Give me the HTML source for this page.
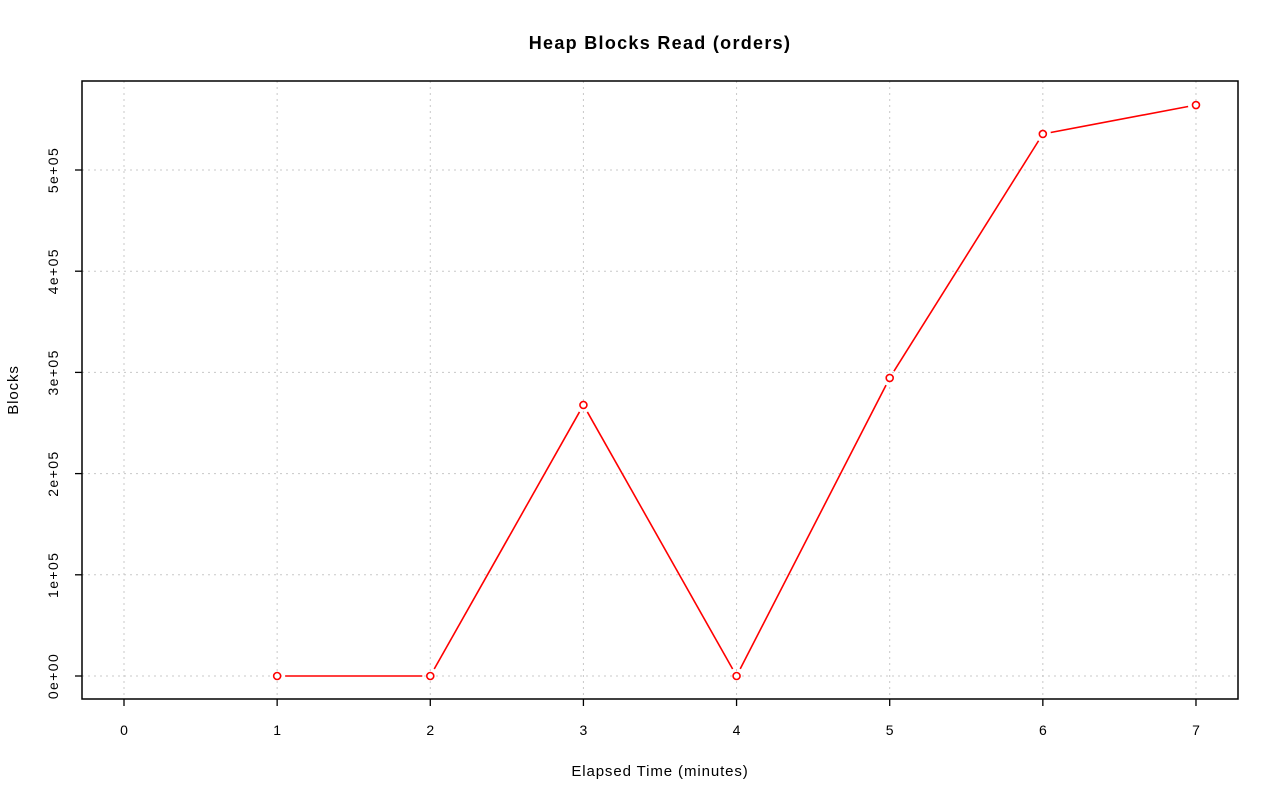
<!DOCTYPE html>
<html><head><meta charset="utf-8">
<style>
body{margin:0;background:#fff;}
svg{display:block;font-family:"Liberation Sans",sans-serif;}
</style></head>
<body>
<svg id="chart" width="1280" height="801">
<text x="660" y="49" text-anchor="middle" font-size="18" letter-spacing="1.3" font-weight="bold">Heap Blocks Read (orders)</text>
<text x="660" y="776" text-anchor="middle" font-size="15" letter-spacing="0.9">Elapsed Time (minutes)</text>
<text transform="translate(18,390) rotate(-90)" text-anchor="middle" font-size="15" letter-spacing="0.9">Blocks</text>
<g id="grid"></g>
<g id="axes"></g>
<g id="series"></g>
<rect x="82" y="81" width="1156" height="618" fill="none" stroke="#000" stroke-width="1.5"/>
</svg>
<script>
const xTicks = [0,1,2,3,4,5,6,7];
const yTicks = [0,100000,200000,300000,400000,500000];
const yTickLabels = ["0e+00","1e+05","2e+05","3e+05","4e+05","5e+05"];
const times = [1,2,3,4,5,6,7];
const blocks = [0,0,267800,0,294500,535600,564200];

const NS="http://www.w3.org/2000/svg";
function X(v){return 124 + v*153.14;}
function Y(v){return 676 - v/100000*101.2;}
function mk(tag,attrs,parent){const e=document.createElementNS(NS,tag);for(const k in attrs)e.setAttribute(k,attrs[k]);parent.appendChild(e);return e;}
const grid=document.getElementById('grid'),axes=document.getElementById('axes'),series=document.getElementById('series');
xTicks.forEach(t=>{
  const l=mk('line',{x1:X(t),x2:X(t),y1:81,y2:699,stroke:'#c8c8c8','stroke-dasharray':'2,4'},grid);
  
  
  const tk=mk('line',{x1:X(t),x2:X(t),y1:699,y2:706,stroke:'#000','stroke-width':1.3},axes);
  
  
  const tx=mk('text',{x:X(t),y:735,'text-anchor':'middle','font-size':14},axes);
  tx.textContent=t;
  
  
});
yTicks.forEach((t,i)=>{
  const l=mk('line',{x1:82,x2:1238,y1:Y(t),y2:Y(t),stroke:'#c8c8c8','stroke-dasharray':'2,4'},grid);
  
  
  const tk=mk('line',{x1:75,x2:82,y1:Y(t),y2:Y(t),stroke:'#000','stroke-width':1.3},axes);
  
  
  const tx=mk('text',{transform:`translate(58,${Y(t)}) rotate(-90)`,'text-anchor':'middle','font-size':14,'letter-spacing':1.4},axes);
  tx.textContent=yTickLabels[i];
  
  
});
for(let i=0;i<times.length-1;i++){
  const x1=X(times[i]),y1=Y(blocks[i]),x2=X(times[i+1]),y2=Y(blocks[i+1]);
  const dx=x2-x1,dy=y2-y1,d=Math.hypot(dx,dy),g=8;
  const l=mk('line',{x1:x1+dx/d*g,y1:y1+dy/d*g,x2:x2-dx/d*g,y2:y2-dy/d*g,stroke:'#f00','stroke-width':1.6},series);
  
  
}
times.forEach((t,i)=>{
  const c=mk('circle',{cx:X(t),cy:Y(blocks[i]),r:3.5,fill:'#fff',stroke:'#f00','stroke-width':1.6},series);
  
  
});
</script>
</body></html>
